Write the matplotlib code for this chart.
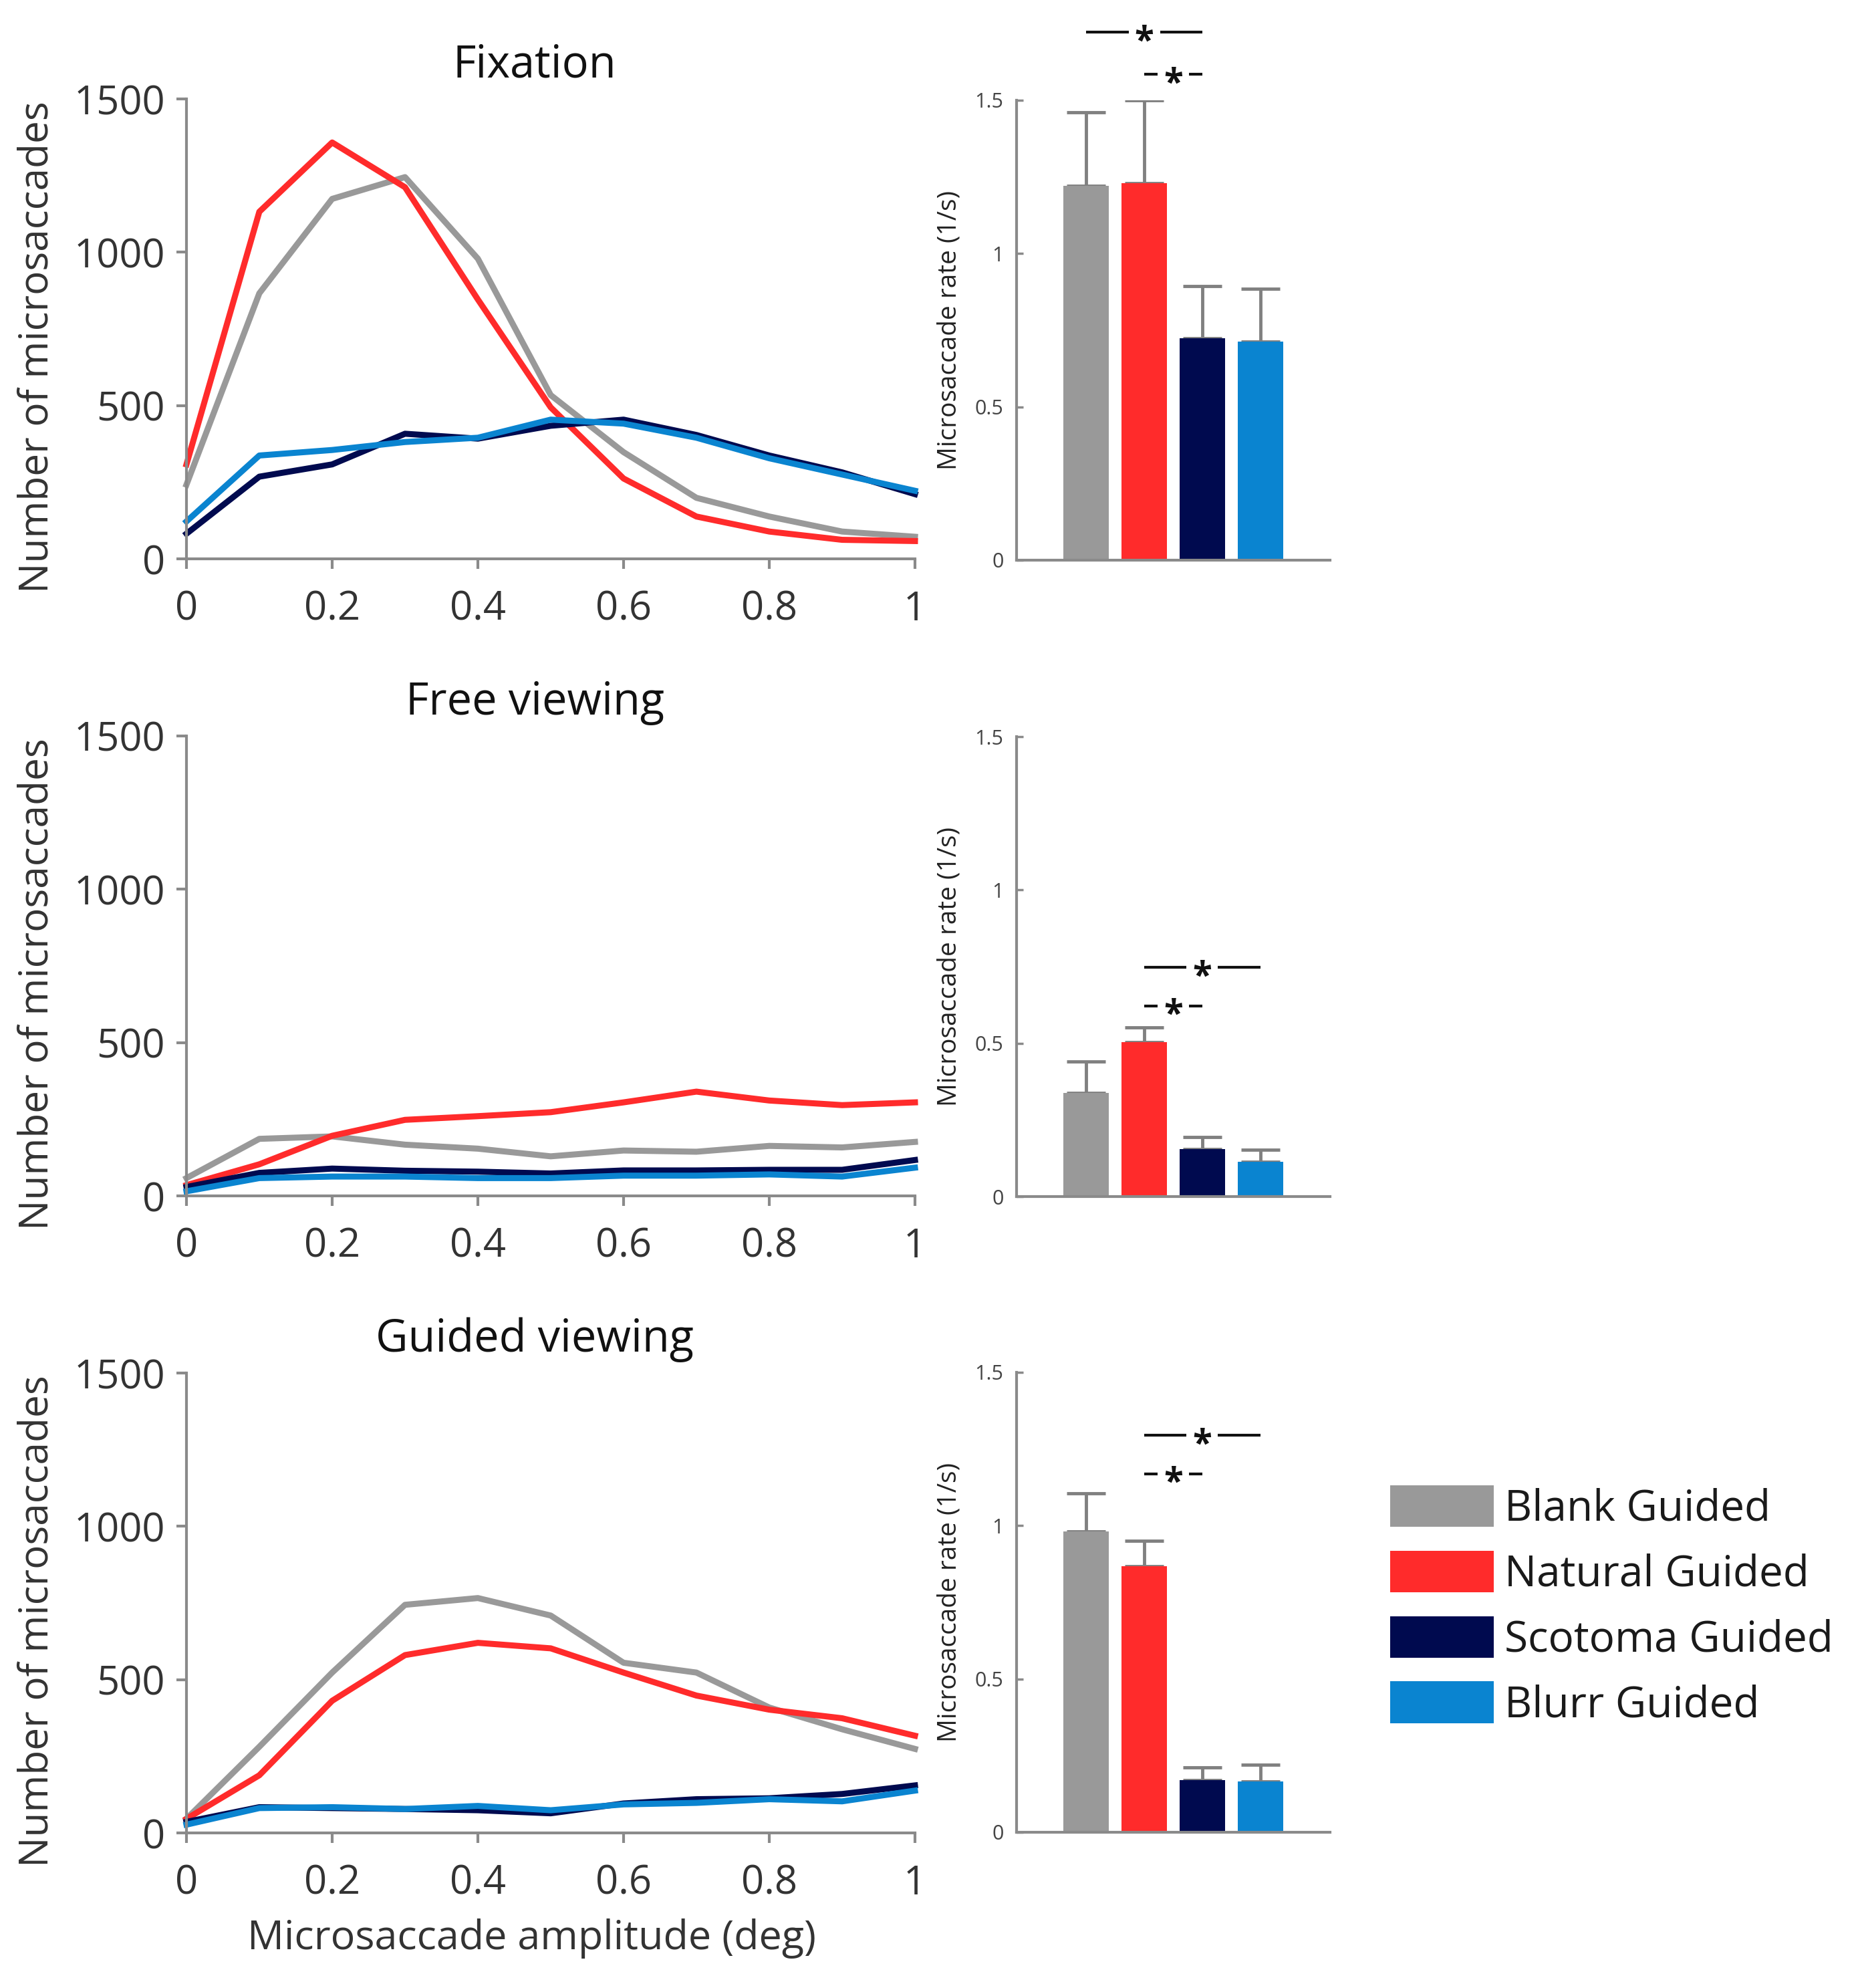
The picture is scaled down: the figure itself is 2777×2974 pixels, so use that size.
import matplotlib
matplotlib.use("Agg")
import matplotlib.pyplot as plt
import matplotlib.transforms as mtransforms
from matplotlib.patches import Patch
from matplotlib import font_manager

# ---------------- data ----------------
amplitude = [0.0, 0.1, 0.2, 0.3, 0.4, 0.5, 0.6, 0.7, 0.8, 0.9, 1.0]
conditions = ["Blank Guided", "Natural Guided", "Scotoma Guided", "Blurr Guided"]
panel_titles = ["Fixation", "Free viewing", "Guided viewing"]

fix_blank = [242, 866, 1174, 1245, 979, 534, 348, 199, 138, 89, 72]
fix_natural = [308, 1132, 1358, 1212, 846, 494, 262, 138, 89, 62, 58]
fix_scotoma = [82, 268, 308, 408, 392, 434, 454, 404, 337, 282, 211]
fix_blurr = [122, 337, 355, 381, 395, 454, 441, 395, 328, 275, 222]

free_blank = [58, 186, 194, 167, 154, 129, 148, 144, 163, 158, 176]
free_natural = [35, 103, 196, 248, 260, 273, 305, 340, 311, 296, 305]
free_scotoma = [29, 75, 89, 82, 79, 73, 83, 83, 85, 85, 117]
free_blurr = [15, 58, 63, 63, 58, 58, 66, 66, 70, 63, 92]

guided_blank = [46, 281, 523, 744, 766, 709, 555, 523, 409, 338, 274]
guided_natural = [46, 188, 431, 580, 620, 602, 523, 448, 402, 374, 317]
guided_scotoma = [36, 84, 81, 78, 74, 64, 96, 110, 113, 127, 155]
guided_blurr = [27, 81, 84, 78, 88, 74, 93, 98, 110, 103, 138]

fix_rate = [1.22, 1.23, 0.724, 0.713]
fix_rate_err = [0.24, 0.27, 0.17, 0.172]
free_rate = [0.337, 0.504, 0.155, 0.114]
free_rate_err = [0.103, 0.047, 0.039, 0.039]
guided_rate = [0.981, 0.867, 0.171, 0.165]
guided_rate_err = [0.125, 0.084, 0.041, 0.055]

# significance comparisons (bar a, bar b, height)
fix_sig = [(1, 3, 1.722), (2, 3, 1.584)]
free_sig = [(2, 4, 0.747), (2, 3, 0.622)]
guided_sig = [(2, 4, 1.294), (2, 3, 1.169)]

# ---------------- style ----------------
colors = ["#999999", "#FF2B2B", "#000A4F", "#0A84D0"]
spine_col = "#8a8a8a"
text_col = "#333333"


def has_font(name):
    try:
        font_manager.findfont(name, fallback_to_default=False)
        return True
    except Exception:
        return False


main_font = "Open Sans" if has_font("Open Sans") else "DejaVu Sans"
plt.rcParams["font.family"] = [main_font, "DejaVu Sans"]

W, H = 2777, 2974
fig = plt.figure(figsize=(W / 100, H / 100), dpi=100)

line_left, line_w = 279 / W, 1090 / W
bar_left, bar_w = 1521 / W, 469 / W
row_bottom_px = [836, 1789, 2742]
bar_bottom_px = [838, 1790, 2741]
row_h = 688 / H

line_data = [
    [fix_blank, fix_natural, fix_scotoma, fix_blurr],
    [free_blank, free_natural, free_scotoma, free_blurr],
    [guided_blank, guided_natural, guided_scotoma, guided_blurr],
]
rate_data = [
    (fix_rate, fix_rate_err, fix_sig),
    (free_rate, free_rate_err, free_sig),
    (guided_rate, guided_rate_err, guided_sig),
]

bar_x = [1, 2, 3, 4]

for r in range(3):
    # ---- line plot ----
    ax = fig.add_axes([line_left, 1 - row_bottom_px[r] / H, line_w, row_h])
    for series, c in zip(line_data[r], colors):
        ax.plot(amplitude, series, color=c, lw=6.5, clip_on=False)
    ax.set_xlim(0, 1)
    ax.set_ylim(0, 1500)
    ax.set_xticks([0, 0.2, 0.4, 0.6, 0.8, 1.0])
    ax.set_xticklabels(["0", "0.2", "0.4", "0.6", "0.8", "1"])
    ax.set_yticks([0, 500, 1000, 1500])
    ax.set_yticklabels(["0", "500", "1000", "1500"])
    for s in ["top", "right"]:
        ax.spines[s].set_visible(False)
    for s in ["left", "bottom"]:
        ax.spines[s].set_color(spine_col)
        ax.spines[s].set_linewidth(3)
    ax.tick_params(axis="both", direction="out", length=11, width=3, color=spine_col,
                   labelsize=43, labelcolor=text_col)
    ax.tick_params(axis="x", pad=22)
    ax.tick_params(axis="y", pad=12)
    ax.text(0.478, 1.073, panel_titles[r], transform=ax.transAxes, ha="center", va="center",
            fontsize=48, color="#111111")
    ax.text(-0.205, 0.46, "Number of microsaccades", transform=ax.transAxes, rotation=90,
            ha="center", va="center", fontsize=43.5, color=text_col)
    if r == 2:
        ax.text(0.474, -0.23, "Microsaccade amplitude (deg)", transform=ax.transAxes,
                ha="center", va="center", fontsize=44, color=text_col)

    # ---- bar plot ----
    rates, errs, sigs = rate_data[r]
    bx = fig.add_axes([bar_left, 1 - bar_bottom_px[r] / H, bar_w, row_h])
    bx.bar(bar_x, rates, width=0.78, color=colors, zorder=2)
    bx.errorbar(bar_x, rates, yerr=[[0] * 4, errs], fmt="none", ecolor="#808080",
                elinewidth=3.5, capsize=21, capthick=3.5, zorder=1)
    bx.set_xlim(-0.2, 5.2)
    bx.set_ylim(0, 1.5)
    bx.set_yticks([0, 0.5, 1, 1.5])
    bx.set_yticklabels(["0", "0.5", "1", "1.5"])
    bx.set_xticks([])
    for s in ["top", "right"]:
        bx.spines[s].set_visible(False)
    for s in ["left", "bottom"]:
        bx.spines[s].set_color(spine_col)
        bx.spines[s].set_linewidth(3)
    bx.tick_params(axis="y", direction="in", length=7, width=2.5, color=spine_col,
                   labelsize=22, labelcolor="#444444", pad=14)
    bx.text(-0.215, 0.5, "Microsaccade rate (1/s)", transform=bx.transAxes, rotation=90,
            ha="center", va="center", fontsize=28, color="#222222")

    star_tr = mtransforms.offset_copy(bx.transData, fig=fig, y=-21, units="points")
    for a, b, yv in sigs:
        mid = (a + b) / 2
        gap = 0.27
        bx.plot([a, mid - gap], [yv, yv], color="#111111", lw=3, clip_on=False,
                solid_capstyle="butt")
        bx.plot([mid + gap, b], [yv, yv], color="#111111", lw=3, clip_on=False,
                solid_capstyle="butt")
        bx.text(mid, yv, "*", transform=star_tr, ha="center", va="baseline",
                fontsize=38, fontweight="bold", color="#111111", clip_on=False)

# ---------------- legend ----------------
handles = [Patch(facecolor=c, edgecolor="none") for c in colors]
fig.legend(handles, conditions, loc="upper left",
           bbox_to_anchor=(2080 / W, 1 - 2222 / H), frameon=False,
           fontsize=46, handlelength=2.42, handleheight=1.12,
           handletextpad=0.25, labelspacing=0.47, borderpad=0, borderaxespad=0,
           labelcolor="#1a1a1a")

fig.savefig("out.png", dpi=100, facecolor="white")
